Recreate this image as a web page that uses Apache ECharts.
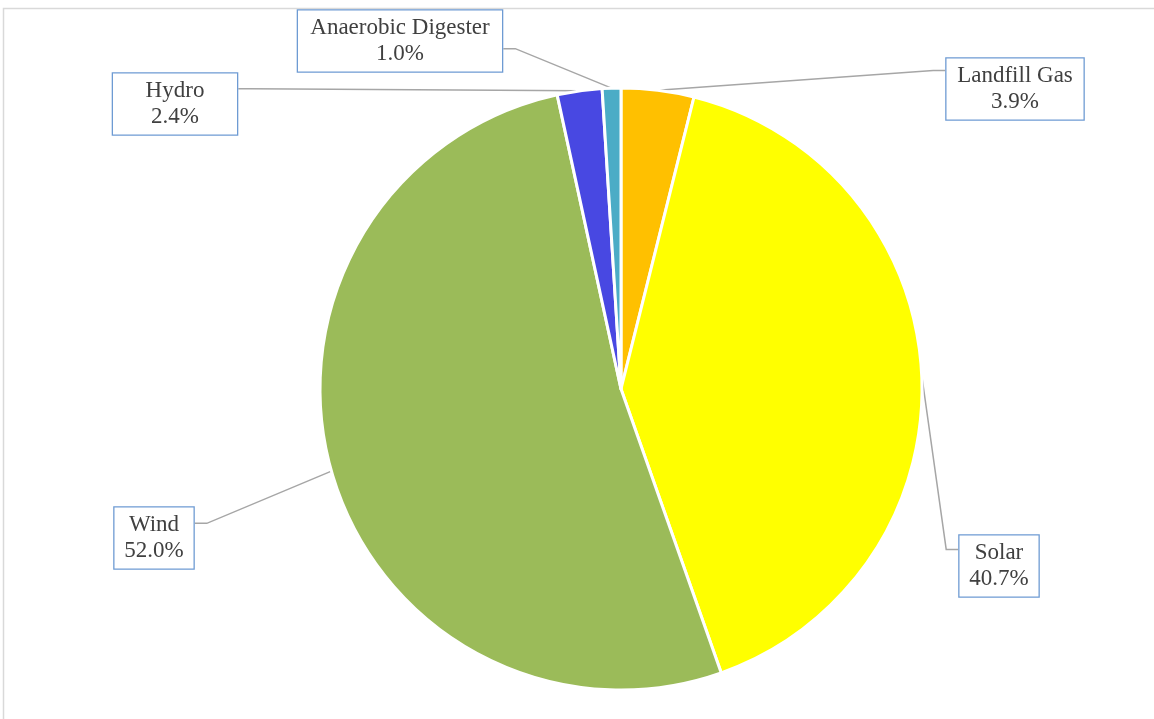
<!DOCTYPE html>
<html>
<head>
<meta charset="utf-8">
<script src="https://cdn.jsdelivr.net/npm/echarts@6/dist/echarts.min.js"></script>
<style>
html,body{margin:0;padding:0;background:#fff;}
#chart{width:1154px;height:719px;}
</style>
</head>
<body>
<div id="chart"></div>
<script>
// Data (clockwise from 12 o'clock)
var categories = ['Landfill Gas', 'Solar', 'Wind', 'Hydro', 'Anaerobic Digester'];
var shares = [3.9, 40.7, 52.0, 2.4, 1.0];
var colors = ['#FFC000', '#FFFF00', '#9BBB59', '#4848E2', '#4BACC6'];

// Label box placement (center of box), text widths, leader attach fraction
var labelPos = {
  'Landfill Gas': {x: 1015, y: 89, w: 121, a: 0.21},
  'Solar': {x: 999, y: 566, w: 63, a: 0.24},
  'Wind': {x: 154, y: 538, w: 63, a: 0.27},
  'Hydro': {x: 175, y: 104, w: 108, a: 0.26},
  'Anaerobic Digester': {x: 400, y: 41, w: 188, a: 0.62}
};
var CX = 621, CY = 389, R = 301;

var data = categories.map(function (c, i) {
  return {
    name: c,
    value: shares[i],
    itemStyle: {color: colors[i]},
    label: {width: labelPos[c].w}
  };
});

var chart = echarts.init(document.getElementById('chart'));
chart.setOption({
  backgroundColor: '#fff',
  animation: false,
  graphic: [{
    type: 'rect',
    shape: {x: 3.5, y: 8.5, width: 1300, height: 900},
    style: {fill: 'none', stroke: '#D9D9D9', lineWidth: 1.5},
    z: -1
  }],
  series: [{
    type: 'pie',
    center: [CX, CY],
    radius: R,
    startAngle: 90,
    clockwise: true,
    data: data,
    itemStyle: {borderColor: '#fff', borderWidth: 3},
    label: {
      show: true,
      formatter: function (p) { return p.name + '\n' + p.value.toFixed(1) + '%'; },
      fontFamily: '"Liberation Serif", "Times New Roman", serif',
      fontSize: 23,
      lineHeight: 26,
      color: '#404040',
      align: 'center',
      overflow: 'none',
      backgroundColor: '#fff',
      borderColor: '#6E9BD3',
      borderWidth: 1.3,
      padding: [4, 8, 5, 8]
    },
    labelLine: {
      show: true,
      length: 20,
      length2: 20,
      lineStyle: {color: '#A6A6A6', width: 1.5}
    },
    labelLayout: function (params) {
      var p = labelPos[categories[params.dataIndex]];
      var rect = params.labelRect;
      var top = p.y - rect.height / 2;
      var ay = top + rect.height * p.a;
      var onRight = p.x > CX;
      var ax = onRight ? p.x - rect.width / 2 : p.x + rect.width / 2;
      var ex = onRight ? ax - 12 : ax + 12;
      var res = {x: p.x, y: p.y, align: 'center', verticalAlign: 'middle'};
      if (params.labelLinePoints && params.labelLinePoints[0]) {
        var s = params.labelLinePoints[0];
        res.labelLinePoints = [[s[0], s[1]], [ex, ay], [ax, ay]];
      }
      return res;
    }
  }]
});
</script>
</body>
</html>
